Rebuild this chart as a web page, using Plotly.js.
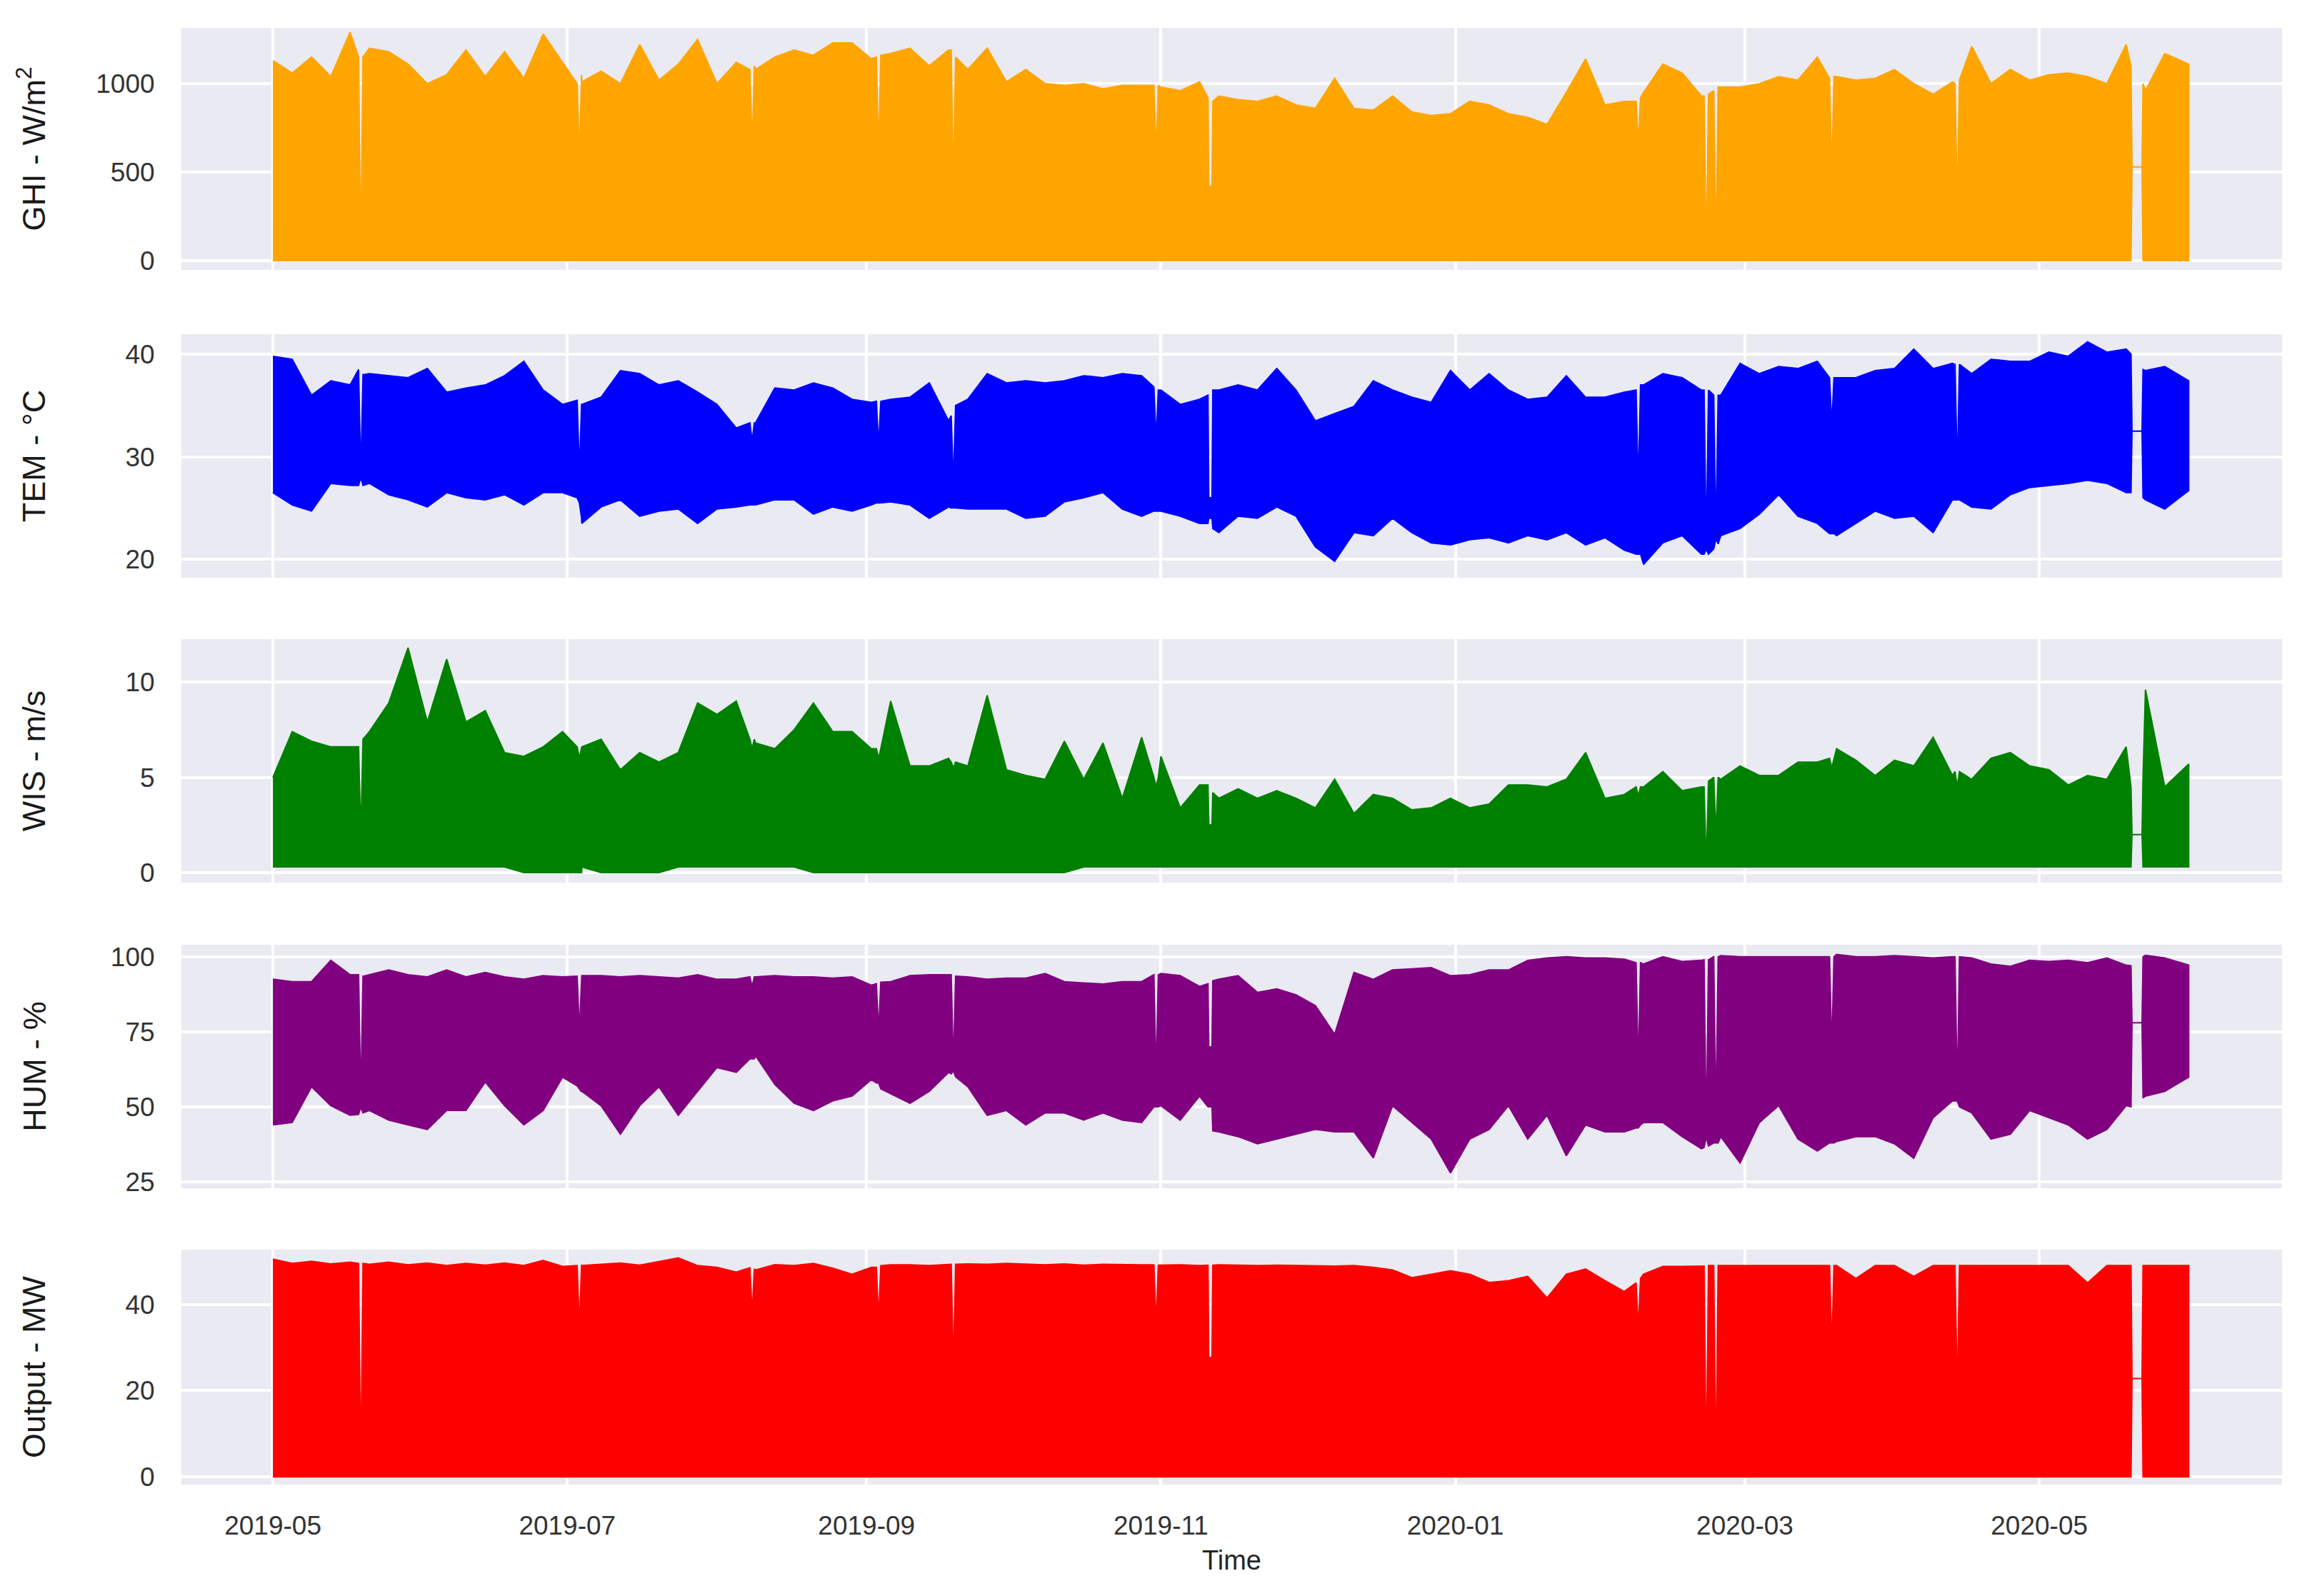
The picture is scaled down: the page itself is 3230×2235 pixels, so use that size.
<!DOCTYPE html>
<html>
<head>
<meta charset="utf-8">
<script src="https://cdn.plot.ly/plotly-3.0.1.min.js"></script>
<style>
html,body{margin:0;padding:0;background:#ffffff;}
#chart{width:3230px;height:2235px;}
</style>
</head>
<body>
<div id="chart"></div>
<script>
// ---------- sampling dates (every 4 days) ----------
const gridDates = [
'2019-05-01','2019-05-05','2019-05-09','2019-05-13','2019-05-17','2019-05-21','2019-05-25','2019-05-29',
'2019-06-02','2019-06-06','2019-06-10','2019-06-14','2019-06-18','2019-06-22','2019-06-26','2019-06-30',
'2019-07-04','2019-07-08','2019-07-12','2019-07-16','2019-07-20','2019-07-24','2019-07-28',
'2019-08-01','2019-08-05','2019-08-09','2019-08-13','2019-08-17','2019-08-21','2019-08-25','2019-08-29',
'2019-09-02','2019-09-06','2019-09-10','2019-09-14','2019-09-18','2019-09-22','2019-09-26','2019-09-30',
'2019-10-04','2019-10-08','2019-10-12','2019-10-16','2019-10-20','2019-10-24','2019-10-28',
'2019-11-01','2019-11-05','2019-11-09','2019-11-13','2019-11-17','2019-11-21','2019-11-25','2019-11-29',
'2019-12-03','2019-12-07','2019-12-11','2019-12-15','2019-12-19','2019-12-23','2019-12-27','2019-12-31',
'2020-01-04','2020-01-08','2020-01-12','2020-01-16','2020-01-20','2020-01-24','2020-01-28',
'2020-02-01','2020-02-05','2020-02-09','2020-02-13','2020-02-17','2020-02-21','2020-02-25','2020-02-29',
'2020-03-04','2020-03-08','2020-03-12','2020-03-16','2020-03-20','2020-03-24','2020-03-28',
'2020-04-01','2020-04-05','2020-04-09','2020-04-13','2020-04-17','2020-04-21','2020-04-25','2020-04-29',
'2020-05-03','2020-05-07','2020-05-11','2020-05-15','2020-05-19','2020-05-23','2020-05-27','2020-05-31 23:00'
];

// daily peak / trough envelopes read at the sampling dates
const ghiMax = [
1130,1060,1150,1040,1290,1200,1180,1110,
1000,1050,1190,1040,1180,1030,1280,1120,
1010,1070,1000,1220,1020,1110,1250,
1000,1120,1080,1150,1190,1160,1230,1230,
1140,1170,1200,1100,1190,1080,1200,1010,
1080,1000,990,1000,970,990,990,
980,960,1010,930,910,900,930,880,
860,1030,860,850,930,840,820,830,
900,880,830,810,770,950,1140,
880,900,950,1110,1060,930,980,980,
1000,1040,1020,1150,1040,1020,1030,
1080,1000,940,1010,1210,1000,1080,1020,
1050,1060,1040,1000,1220,960,1170,1110
];
const temMax = [
39.8,39.5,36.0,37.4,37.0,38.1,37.9,37.7,
38.6,36.3,36.7,37.0,37.9,39.3,36.5,35.1,
35.1,35.8,38.4,38.1,37.0,37.4,36.3,
35.1,32.8,33.3,36.7,36.5,37.2,36.7,35.6,
35.3,35.6,35.8,37.2,33.5,35.6,38.1,37.2,
37.4,37.2,37.4,37.9,37.7,38.1,37.9,
36.5,35.1,35.6,36.5,37.0,36.5,38.6,36.5,
33.5,34.2,34.9,37.4,36.5,35.8,35.3,38.4,
36.5,38.1,36.5,35.6,35.8,37.9,35.8,
35.8,36.3,37.0,38.1,37.7,36.5,36.0,39.1,
38.1,38.8,38.6,39.3,37.7,37.7,38.4,
38.6,40.5,38.6,39.1,38.1,39.5,39.3,39.3,
40.2,39.8,41.2,40.2,40.5,38.4,38.8,37.4
];
const temMin = [
26.5,25.3,24.7,27.4,27.2,27.4,26.3,25.8,
25.1,26.5,26.0,25.8,26.3,25.3,26.5,26.5,
23.5,25.1,25.8,24.2,24.7,24.9,23.5,
24.9,25.1,25.3,25.8,25.8,24.4,25.1,24.7,
25.3,25.6,25.3,24.0,25.1,24.9,24.9,24.9,
24.0,24.2,25.6,26.0,26.5,24.9,24.2,
24.7,24.2,23.5,22.6,24.2,24.0,25.1,24.2,
21.2,19.8,22.6,22.3,24.0,22.6,21.6,21.4,
21.9,22.1,21.6,22.3,21.9,22.6,21.4,
22.1,20.9,19.5,21.6,22.3,20.5,22.3,23.0,
24.4,26.3,24.2,23.5,22.3,23.5,24.7,
24.0,24.2,22.6,25.8,25.1,24.9,26.3,27.0,
27.2,27.4,27.7,27.4,26.5,25.8,24.9,26.7
];
const wisMax = [
5.0,7.4,6.9,6.6,6.6,7.4,8.9,11.8,
7.9,11.2,7.9,8.5,6.3,6.1,6.6,7.4,
6.6,7.0,5.4,6.3,5.8,6.3,8.9,
8.3,9.0,6.8,6.5,7.5,8.9,7.4,7.4,
6.5,9.0,5.6,5.6,6.0,5.6,9.3,5.4,
5.1,4.9,6.9,4.9,6.8,3.9,7.1,
6.1,3.4,4.6,3.9,4.4,3.9,4.3,3.9,
3.4,4.9,3.1,4.1,3.9,3.3,3.4,3.9,
3.4,3.6,4.6,4.6,4.5,4.9,6.3,
3.9,4.1,4.5,5.3,4.3,4.5,4.9,5.6,
5.1,5.1,5.8,5.8,6.5,5.9,5.1,
5.9,5.6,7.1,5.1,4.9,6.0,6.3,5.6,
5.4,4.6,5.1,4.9,6.6,9.6,4.5,5.7
];
const wisMin = [
0.3,0.3,0.3,0.3,0.3,0.3,0.3,0.3,
0.3,0.3,0.3,0.3,0.3,0.0,0.0,0.0,
0.3,0.0,0.0,0.0,0.0,0.3,0.3,
0.3,0.3,0.3,0.3,0.3,0.0,0.0,0.0,
0.0,0.0,0.0,0.0,0.0,0.0,0.0,0.0,
0.0,0.0,0.0,0.3,0.3,0.3,0.3,
0.3,0.3,0.3,0.3,0.3,0.3,0.3,0.3,
0.3,0.3,0.3,0.3,0.3,0.3,0.3,0.3,
0.3,0.3,0.3,0.3,0.3,0.3,0.3,
0.3,0.3,0.3,0.3,0.3,0.3,0.3,0.3,
0.3,0.3,0.3,0.3,0.3,0.3,0.3,
0.3,0.3,0.3,0.3,0.3,0.3,0.3,0.3,
0.3,0.3,0.3,0.3,0.3,0.3,0.3,0.3
];
const humMax = [
92.5,91.7,91.7,98.8,94.0,94.0,95.6,94.0,
93.3,95.6,93.3,94.8,93.3,92.5,93.7,93.3,
93.7,93.7,93.3,93.7,93.3,92.9,94.0,
92.5,92.5,93.3,93.7,93.3,93.3,92.9,93.3,
90.5,91.7,93.7,94.0,94.0,93.3,92.5,92.9,
92.9,94.4,91.7,91.3,90.9,91.7,91.7,
94.4,93.7,90.1,92.5,93.7,88.1,89.3,87.3,
83.7,74.2,94.8,92.5,95.6,96.0,96.4,93.7,
94.0,95.6,95.6,98.8,99.6,100.0,99.6,
99.6,99.2,97.6,100.0,98.4,98.8,100.4,100.0,
100.0,100.0,100.0,100.0,100.8,100.0,100.0,
100.4,100.0,99.6,100.0,99.6,97.6,96.8,98.8,
98.4,98.8,98.0,99.6,97.2,100.5,99.6,97.2
];
const humMin = [
44.0,44.8,56.7,50.4,47.2,48.8,45.6,44.0,
42.5,48.8,48.8,58.3,50.4,44.0,48.8,59.9,
55.2,50.4,40.9,50.4,56.7,47.2,55.2,
63.1,61.5,67.1,57.5,51.2,48.8,52.0,53.6,
59.1,54.4,51.2,55.2,61.5,56.7,47.2,48.8,
44.0,48.0,48.0,45.6,48.0,45.6,44.8,
50.4,45.6,53.6,41.7,40.1,37.7,39.3,40.9,
42.5,41.7,41.7,33.0,50.4,44.8,39.3,28.0,
39.3,42.5,50.4,39.3,47.2,33.7,44.0,
41.7,41.7,44.8,44.8,40.1,36.1,40.1,31.3,
44.8,50.4,39.3,35.3,38.5,40.1,40.1,
37.7,32.9,46.4,52.0,48.0,39.3,40.9,48.8,
46.4,44.0,39.3,42.5,50.4,53.6,55.2,59.9
];
const outMax = [
50.5,49.5,50.0,49.4,49.8,49.3,49.8,49.2,
49.6,49.0,49.5,49.1,49.6,49.0,50.2,48.8,
49.0,49.3,49.6,49.1,50.0,50.8,49.0,
48.6,47.5,48.0,49.2,49.0,49.5,48.4,47.0,
48.6,49.2,49.2,49.0,49.3,49.4,49.3,49.5,
49.3,49.2,49.4,49.1,49.3,49.2,49.2,
49.1,49.2,49.0,49.2,49.1,49.0,49.1,49.0,
48.9,48.9,49.0,48.6,48.0,46.2,47.0,47.8,
47.0,45.1,45.5,46.5,41.5,47.0,48.2,
45.5,43.0,47.0,48.8,48.8,48.9,49.0,49.0,
49.0,49.0,49.0,49.0,49.0,46.0,49.0,
49.0,46.5,49.0,49.0,49.0,49.0,49.0,49.0,
49.0,49.0,45.0,49.0,49.0,49.0,49.0,49.0
];
// GHI and plant output drop to zero every night
const nightFloor = 0;

// ---------- short data gaps / outage days (before, at, after) ----------
const eventDates = [
'2019-05-18 18:00','2019-05-19 05:00','2019-05-19 16:00',
'2019-07-03 01:00','2019-07-03 12:00','2019-07-03 23:00',
'2019-08-07 20:00','2019-08-08 07:00','2019-08-08 18:00',
'2019-09-03 01:00','2019-09-03 12:00','2019-09-03 23:00',
'2019-09-18 13:00','2019-09-19 00:00','2019-09-19 11:00',
'2019-10-30 13:00','2019-10-31 00:00','2019-10-31 11:00',
'2019-11-10 18:00','2019-11-10 22:00','2019-11-11 14:00','2019-11-11 18:00',
'2020-02-07 11:00','2020-02-07 22:00','2020-02-08 09:00',
'2020-02-21 13:00','2020-02-22 00:00','2020-02-22 11:00',
'2020-02-23 13:00','2020-02-24 00:00','2020-02-24 11:00',
'2020-03-18 13:00','2020-03-19 00:00','2020-03-19 11:00',
'2020-04-13 13:00','2020-04-14 00:00','2020-04-14 11:00',
'2020-05-20 00:00','2020-05-20 05:00','2020-05-22 07:00','2020-05-22 12:00'
];
const ghiMaxEvt = [1150,0,1150, 1000,560,1050, 1080,620,1100, 1150,600,1160, 1190,410,1150, 990,600,990,
  920,420,420,900, 900,650,920, 930,0,940, 960,0,980, 1030,480,1040, 1000,300,1020, 1100,530,530,1000];
const ghiMinEvt = [0,0,0, 0,0,0, 0,0,0, 0,0,0, 0,0,0, 0,0,0, 0,0,0,0, 0,0,0, 0,0,0, 0,0,0, 0,0,0, 0,0,0, 0,530,530,0];
const temMaxEvt = [38.5,28.0,38.0, 35.5,28.4,35.1, 33.3,31.5,33.3, 35.4,31.0,35.4, 34.0,27.2,35.0, 36.8,31.6,36.5,
  36.0,26.0,26.0,36.5, 36.5,27.0,37.0, 36.5,21.0,36.5, 36.0,22.0,36.0, 37.7,33.0,37.7, 39.0,28.4,39.0, 40.0,32.5,32.5,38.5];
const temMinEvt = [27.2,28.0,27.2, 26.0,25.5,24.0, 25.3,25.3,25.3, 25.5,25.5,25.5, 25.0,25.0,25.0, 24.7,24.7,24.7,
  23.5,24.0,24.0,23.0, 20.5,20.5,20.5, 20.5,21.0,20.5, 21.0,22.0,21.5, 22.5,22.5,22.5, 25.8,25.8,25.8, 26.5,32.5,32.5,26.0];
const wisMaxEvt = [6.6,1.8,7.0, 6.6,6.0,6.6, 7.0,6.5,7.0, 6.5,6.0,6.5, 5.8,5.5,5.8, 5.0,4.5,5.0,
  4.6,2.5,2.5,4.2, 4.5,4.0,4.5, 4.5,0.3,4.8, 5.0,2.0,5.0, 6.0,5.5,6.0, 5.3,4.5,5.3, 4.5,2.0,2.0,5.0];
const wisMinEvt = [0.3,0.3,0.3, 0.0,0.0,0.0, 0.3,0.3,0.3, 0.0,0.0,0.0, 0.0,0.0,0.0, 0.3,0.3,0.3,
  0.3,0.3,0.3,0.3, 0.3,0.3,0.3, 0.3,0.3,0.3, 0.3,0.3,0.3, 0.3,0.3,0.3, 0.3,0.3,0.3, 0.3,2.0,2.0,0.3];
const humMaxEvt = [94.0,52.0,93.5, 93.5,75.0,93.7, 93.3,90.0,93.3, 91.0,75.0,91.5, 94.0,63.0,93.5, 94.0,60.0,94.0,
  91.0,70.0,70.0,92.0, 98.0,62.0,98.0, 99.0,40.0,99.0, 100.0,45.0,100.0, 100.0,68.0,100.0, 100.0,53.6,100.0, 97.0,78.0,78.0,100.0];
const humMinEvt = [47.5,50.0,48.0, 57.0,56.0,55.0, 66.0,66.0,66.0, 58.0,58.0,56.0, 61.0,62.0,60.0, 50.0,50.0,50.0,
  50.0,50.0,50.0,42.0, 43.0,43.0,44.0, 36.5,40.0,37.0, 38.0,38.0,38.0, 38.0,38.0,38.0, 52.0,52.0,50.0, 50.0,78.0,78.0,53.0];
const outMaxEvt = [49.5,0,49.5, 49.0,34.2,49.2, 48.5,37.5,48.2, 48.6,36.4,49.0, 49.3,24.7,49.3, 49.2,35.0,49.1,
  49.1,27.7,27.7,49.1, 45.0,34.2,46.0, 48.9,0,49.0, 49.0,0,49.0, 49.0,29.3,49.0, 49.0,17.9,49.0, 49.0,22.8,22.8,49.0];
const outMinEvt = [0,0,0, 0,0,0, 0,0,0, 0,0,0, 0,0,0, 0,0,0, 0,0,0,0, 0,0,0, 0,0,0, 0,0,0, 0,0,0, 0,0,0, 0,22.8,22.8,0];

// ---------- axis ticks / labels ----------
const monthTicks = ['2019-05-01','2019-07-01','2019-09-01','2019-11-01','2020-01-01','2020-03-01','2020-05-01'];
const monthLabels = ['2019-05','2019-07','2019-09','2019-11','2020-01','2020-03','2020-05'];
const ghiTicks = [0, 500, 1000];
const temTicks = [20, 30, 40];
const wisTicks = [0, 5, 10];
const humTicks = [25, 50, 75, 100];
const outTicks = [0, 20, 40];
const panelTitles = ['GHI - W/m<sup>2</sup>', 'TEM - \u00B0C', 'WIS - m/s', 'HUM - %', 'Output - MW'];
const xTitle = 'Time';

// ---------- build envelope polygons ----------
function toTime(s) {
  const iso = s.length === 10 ? s + 'T00:00' : s.replace(' ', 'T');
  return new Date(iso).getTime();
}
function envelope(hi, lo, hiEvt, loEvt) {
  const pts = [];
  gridDates.forEach((d, i) => pts.push([toTime(d), d, hi[i], lo ? lo[i] : nightFloor]));
  eventDates.forEach((d, i) => pts.push([toTime(d), d, hiEvt[i], loEvt[i]]));
  pts.sort((a, b) => a[0] - b[0]);
  const xs = pts.map(p => p[1]);
  const up = pts.map(p => p[2]);
  const dn = pts.map(p => p[3]);
  return { x: xs.concat(xs.slice().reverse()), y: up.concat(dn.slice().reverse()) };
}

const W = 3230, H = 2235;
const plotL = 254, plotR = 3195;
const panelPx = [[39, 378], [468, 809], [895, 1236], [1323, 1664], [1750, 2079]];
const xRange = ['2019-04-12 01:00', '2020-06-20 07:00'];
const FONT = 'Liberation Sans, Arial, Helvetica, sans-serif';

const panels = [
  { hi: ghiMax, lo: null,   hiE: ghiMaxEvt, loE: ghiMinEvt, color: '#FFA500', ticks: ghiTicks, range: [-52, 1315], standoff: 56 },
  { hi: temMax, lo: temMin, hiE: temMaxEvt, loE: temMinEvt, color: '#0000FF', ticks: temTicks, range: [18.2, 41.95], standoff: 97 },
  { hi: wisMax, lo: wisMin, hiE: wisMaxEvt, loE: wisMinEvt, color: '#008000', ticks: wisTicks, range: [-0.52, 12.25], standoff: 97 },
  { hi: humMax, lo: humMin, hiE: humMaxEvt, loE: humMinEvt, color: '#800080', ticks: humTicks, range: [22.9, 104.0], standoff: 76 },
  { hi: outMax, lo: null,   hiE: outMaxEvt, loE: outMinEvt, color: '#FF0000', ticks: outTicks, range: [-1.8, 52.7], standoff: 97 }
];

const traces = [];
const layout = {
  width: W, height: H,
  margin: { l: 0, r: 0, t: 0, b: 0 },
  paper_bgcolor: '#ffffff',
  plot_bgcolor: '#EAEAF2',
  showlegend: false,
  font: { family: FONT, color: '#262626' }
};

panels.forEach((p, i) => {
  const n = i === 0 ? '' : String(i + 1);
  const poly = envelope(p.hi, p.lo, p.hiE, p.loE);
  traces.push({
    type: 'scatter', mode: 'lines',
    x: poly.x, y: poly.y,
    xaxis: 'x' + n, yaxis: 'y' + n,
    fill: 'toself', fillcolor: p.color,
    line: { color: p.color, width: 2 },
    hoverinfo: 'skip'
  });
  const bottom = i === panels.length - 1;
  const [top, bot] = panelPx[i];
  const xa = {
    domain: [plotL / W, plotR / W], anchor: 'y' + n, type: 'date', range: xRange,
    tickmode: 'array', tickvals: monthTicks,
    showgrid: true, gridcolor: '#FFFFFF', gridwidth: 4,
    zeroline: false, showline: false, automargin: false, fixedrange: true
  };
  if (bottom) {
    Object.assign(xa, {
      ticktext: monthLabels, showticklabels: true,
      ticks: 'outside', ticklen: 25, tickcolor: 'rgba(0,0,0,0)',
      tickfont: { size: 37, color: '#333333', family: FONT },
      title: { text: xTitle, font: { size: 38, color: '#262626', family: FONT }, standoff: 14 }
    });
  } else {
    Object.assign(xa, { showticklabels: false, ticks: '' });
  }
  layout['xaxis' + n] = xa;
  layout['yaxis' + n] = {
    domain: [1 - bot / H, 1 - top / H], anchor: 'x' + n, range: p.range,
    tickmode: 'array', tickvals: p.ticks,
    ticks: 'outside', ticklen: 29, tickcolor: 'rgba(0,0,0,0)',
    tickfont: { size: 37, color: '#333333', family: FONT },
    showgrid: true, gridcolor: '#FFFFFF', gridwidth: 4,
    zeroline: false, showline: false, automargin: false, fixedrange: true,
    title: { text: panelTitles[i], font: { size: 45, color: '#1a1a1a', family: FONT }, standoff: p.standoff }
  };
});

Plotly.newPlot('chart', traces, layout, { displayModeBar: false, staticPlot: true });
</script>
</body>
</html>
